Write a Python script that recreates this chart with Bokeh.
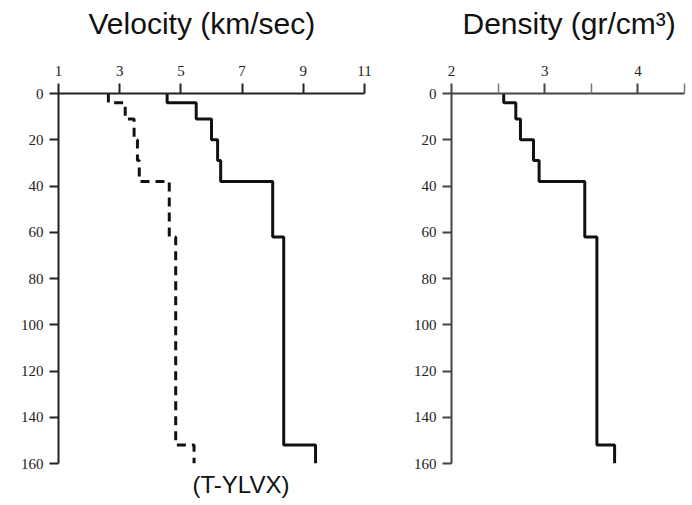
from bokeh.plotting import figure
from bokeh.layouts import row
from bokeh.models import Range1d, FixedTicker, Title
from bokeh.embed import file_html
from bokeh.resources import INLINE

# ---- data ----
layer_top = [0, 4, 11, 20, 29, 38, 62, 152]
model_bottom = 160
vp = [4.55, 5.5, 6.0, 6.2, 6.3, 8.0, 8.36, 9.4]
vs = [2.63, 3.18, 3.47, 3.58, 3.64, 4.62, 4.83, 5.43]
density = [2.56, 2.69, 2.74, 2.88, 2.94, 3.43, 3.56, 3.75]
vel_ticks = [1, 3, 5, 7, 9, 11]
den_ticks = [2, 3, 4]
den_minor = [2.5, 3.5, 4.5]
depth_ticks = [0, 20, 40, 60, 80, 100, 120, 140, 160]


def step_profile(values):
    bottoms = layer_top[1:] + [model_bottom]
    xs, ys = [], []
    for v, t, b in zip(values, layer_top, bottoms):
        xs += [v, v]
        ys += [t, b]
    return xs, ys


SERIF = "Liberation Serif"
SANS = "Liberation Sans"


def style_axes(p, ticks, minor=None, axis_color="#222222"):
    xa = p.xaxis[0]
    xa.ticker = FixedTicker(ticks=ticks, minor_ticks=minor or [])
    xa.major_tick_out = 10
    xa.major_tick_in = 0
    xa.minor_tick_out = 10 if minor else 0
    xa.minor_tick_in = 0
    xa.major_label_standoff = 8
    ya = p.yaxis[0]
    ya.ticker = FixedTicker(ticks=depth_ticks)
    ya.major_tick_out = 9
    ya.major_tick_in = 0
    ya.minor_tick_out = 0
    ya.minor_tick_in = 0
    ya.major_label_standoff = 6
    for a in (xa, ya):
        a.axis_line_width = 2
        a.axis_line_color = axis_color
        a.major_tick_line_width = 2
        a.major_tick_line_color = axis_color
        a.minor_tick_line_width = 1.5
        a.minor_tick_line_color = "#777777"
        a.major_label_text_font = SERIF
        a.major_label_text_font_size = "15px"
        a.major_label_text_color = "#222222"
    p.xgrid.visible = False
    p.ygrid.visible = False
    p.outline_line_color = None


def title(text, size, offset, standoff):
    return Title(text=text, text_font=SANS, text_font_size=size,
                 text_font_style="normal", text_color="#111111",
                 align="left", offset=offset, standoff=standoff)


def add_top_title(p, text, offset):
    # blank spacer between the tick labels and the title
    p.add_layout(Title(text=" ", text_font_size="1px", standoff=20), "above")
    p.add_layout(title(text, "30px", offset, 0), "above")


# ---- velocity panel ----
p1 = figure(width=380, height=504, output_backend="svg", toolbar_location=None,
            x_axis_location="above",
            x_range=Range1d(1, 11), y_range=Range1d(160, 0),
            min_border_left=58, min_border_right=16,
            min_border_top=93, min_border_bottom=40)
style_axes(p1, vel_ticks)

xs, ys = step_profile(vp)
p1.line(xs, ys, line_color="#111111", line_width=3)
xs, ys = step_profile(vs)
p1.line(xs, ys, line_color="#111111", line_width=3, line_dash="9 6")

add_top_title(p1, "Velocity (km/sec)", 30)
p1.add_layout(title("(T-YLVX)", "24px", 134, 10), "below")

# ---- density panel ----
p2 = figure(width=310, height=504, output_backend="svg", toolbar_location=None,
            x_axis_location="above",
            x_range=Range1d(2, 4.5), y_range=Range1d(160, 0),
            min_border_left=71, min_border_right=6,
            min_border_top=93, min_border_bottom=41)
style_axes(p2, den_ticks, den_minor, axis_color="#444444")

xs, ys = step_profile(density)
p2.line(xs, ys, line_color="#111111", line_width=3)

add_top_title(p2, "Density (gr/cm\u00b3)", 11)

layout = row(p1, p2, spacing=0)
open("out.html", "w").write(file_html(layout, INLINE))
